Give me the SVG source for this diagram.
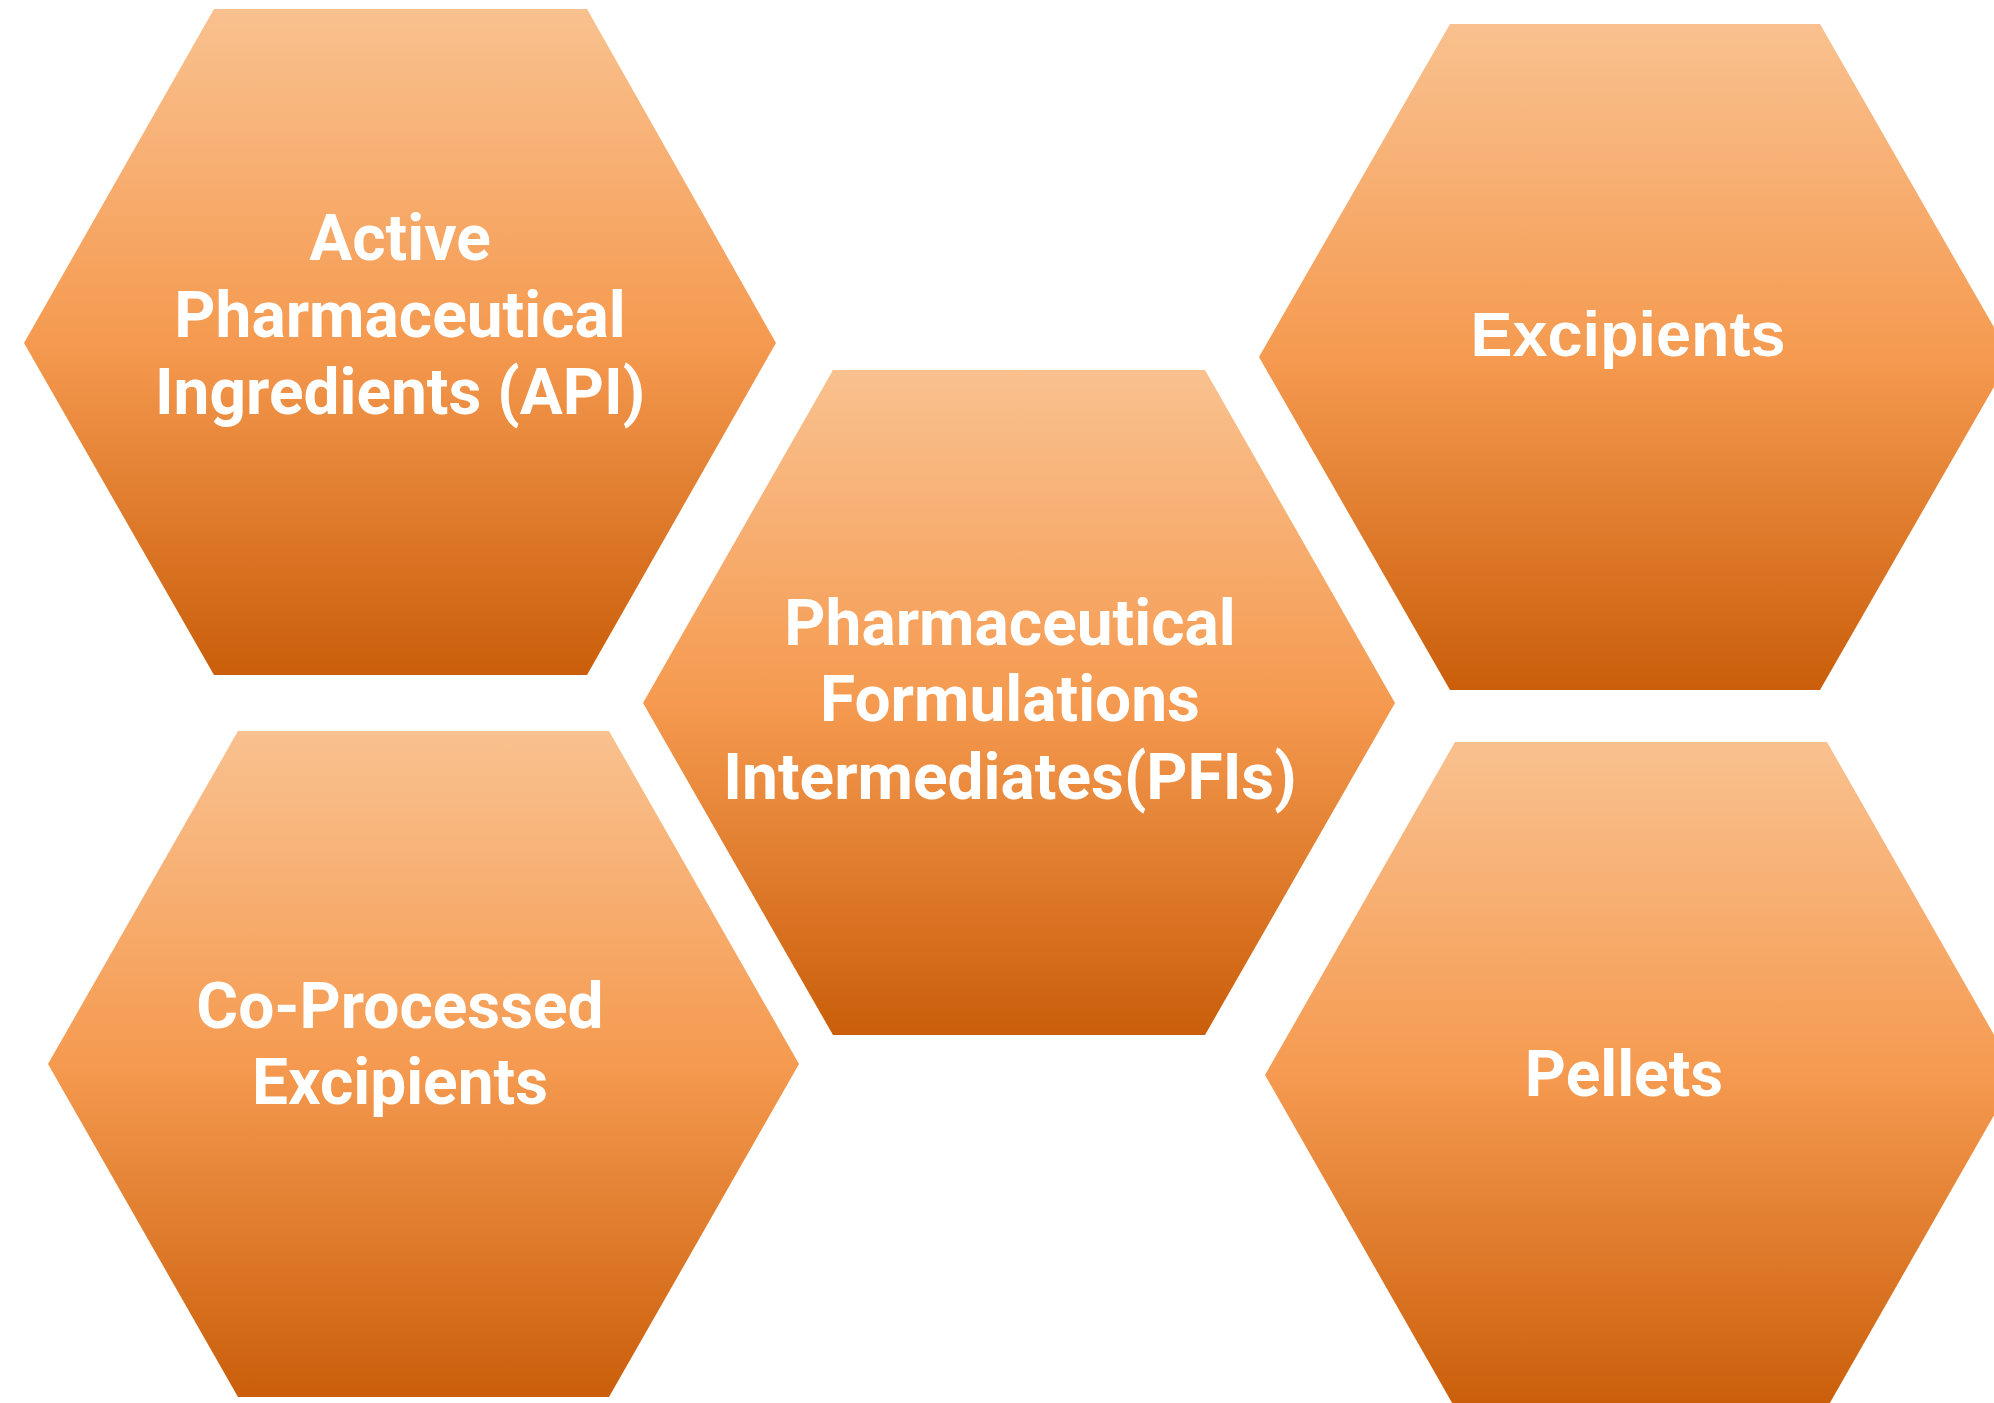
<svg xmlns="http://www.w3.org/2000/svg" width="1994" height="1403" viewBox="0 0 1994 1403">
  <defs>
    <linearGradient id="hexGrad" x1="0" y1="0" x2="0" y2="1">
      <stop offset="0" stop-color="#F9C18F"/>
      <stop offset="0.5" stop-color="#F59A50"/>
      <stop offset="1" stop-color="#CA5E0A"/>
    </linearGradient>
    <style>
      .hex { fill: url(#hexGrad); stroke: none; }
      .lbl { fill: #FFFFFF; font-family: Roboto, "Liberation Sans", sans-serif; font-weight: 700; font-size: 64px; text-anchor: middle; }
      .lbl-arial { fill: #FFFFFF; font-family: "Liberation Sans", Arial, sans-serif; font-weight: 700; font-size: 63px; text-anchor: middle; }
    </style>
  </defs>
  <rect width="1994" height="1403" fill="#FFFFFF"/>
  <g id="connectors"/>
  <g id="node-api">
    <polygon class="hex" points="214,9 587,9 776,343 587,675 214,675 24,343"/>
    <text class="lbl" x="400" y="260">Active</text>
    <text class="lbl" x="400" y="337">Pharmaceutical</text>
    <text class="lbl" x="400" y="414">Ingredients (API)</text>
  </g>
  <g id="node-excipients">
    <polygon class="hex" points="1450,24 1820,24 2011,357 1820,690 1450,690 1259,357"/>
    <text class="lbl-arial" x="1628" y="356">Excipients</text>
  </g>
  <g id="node-pfis">
    <polygon class="hex" points="833,370 1205,370 1395,703 1205,1035 833,1035 643,703"/>
    <text class="lbl" x="1010" y="645">Pharmaceutical</text>
    <text class="lbl" x="1010" y="721">Formulations</text>
    <text class="lbl" x="1010" y="799">Intermediates(PFIs)</text>
  </g>
  <g id="node-coprocessed">
    <polygon class="hex" points="238,731 609,731 799,1064 609,1397 238,1397 48,1064"/>
    <text class="lbl" x="400" y="1028">Co-Processed</text>
    <text class="lbl" x="400" y="1104">Excipients</text>
  </g>
  <g id="node-pellets">
    <polygon class="hex" points="1455,742 1827,742 2017,1075 1827,1408 1455,1408 1265,1075"/>
    <text class="lbl" x="1624" y="1096">Pellets</text>
  </g>
</svg>
